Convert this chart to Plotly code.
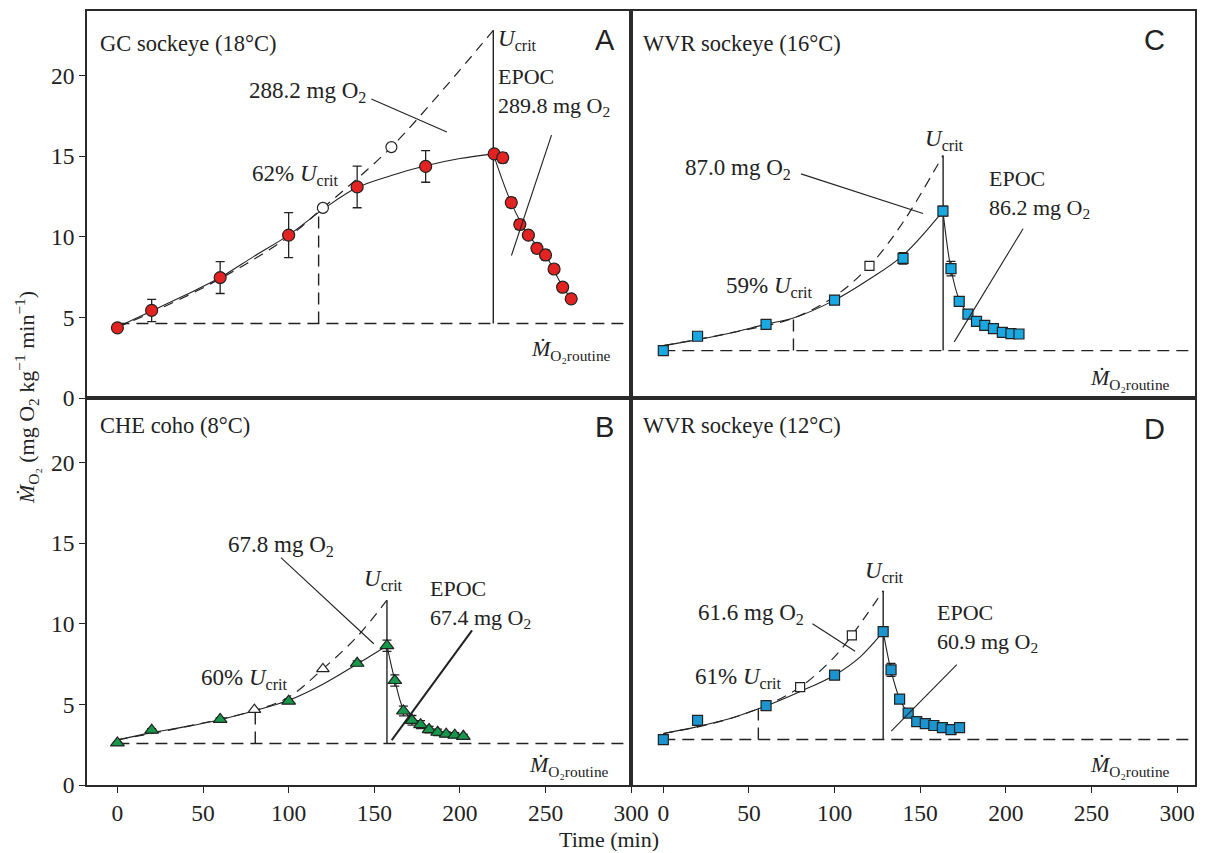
import plotly.graph_objects as go

# ---------------- DATA ----------------
# Panel A: GC sockeye (18°C)
a_time = [0, 20, 60, 100, 140, 180, 220, 225, 230, 235, 240, 245, 250, 255, 260, 265]
a_mo2 = [4.35, 5.43, 7.47, 10.1, 13.09, 14.36, 15.14, 14.9, 12.12, 10.76, 10.1, 9.28, 8.87, 8.0, 6.87, 6.15]
a_err = [0.0, 0.69, 0.99, 1.4, 1.29, 0.98, 0.15, 0.3, 0.3, 0.3, 0.25, 0.3, 0.3, 0.25, 0.25, 0.2]
a_open_time = [120, 160]
a_open_mo2 = [11.79, 15.56]
a_fit_time = [0, 20, 40, 60, 80, 100, 120, 140, 160, 180, 200, 220]
a_fit_mo2 = [4.4, 5.4, 6.4, 7.47, 8.8, 10.1, 11.7, 13.05, 13.8, 14.4, 14.85, 15.14]
a_ext_time = [0, 20, 60, 100, 120, 140, 160, 190, 219.5]
a_ext_mo2 = [4.4, 5.3, 7.4, 10.0, 11.79, 13.6, 15.56, 19.1, 22.8]
a_rec_time = [219.5, 230, 240, 250, 260, 265]
a_rec_mo2 = [15.14, 12.1, 10.1, 8.85, 6.9, 6.15]

# Panel B: CHE coho (8°C)
b_time = [0, 20, 60, 100, 140, 157.4, 162, 167, 172, 177, 182, 187, 192, 197, 202]
b_mo2 = [2.61, 3.4, 4.07, 5.2, 7.55, 8.64, 6.48, 4.59, 4.01, 3.74, 3.44, 3.27, 3.15, 3.09, 3.02]
b_err = [0.05, 0.1, 0.1, 0.12, 0.15, 0.35, 0.35, 0.3, 0.3, 0.25, 0.2, 0.2, 0.15, 0.15, 0.12]
b_open_time = [80, 120]
b_open_mo2 = [4.67, 7.2]
b_fit_time = [0, 20, 40, 60, 80, 100, 120, 140, 157.4]
b_fit_mo2 = [2.8, 3.25, 3.62, 4.05, 4.6, 5.25, 6.25, 7.5, 8.64]
b_ext_time = [0, 40, 80, 100, 120, 140, 157.4]
b_ext_mo2 = [2.8, 3.62, 4.62, 5.45, 7.2, 9.2, 11.46]
b_rec_time = [157.4, 162, 167, 172, 177, 182, 187, 192, 197, 202]
b_rec_mo2 = [8.64, 6.5, 4.7, 4.05, 3.7, 3.45, 3.3, 3.18, 3.1, 3.03]

# Panel C: WVR sockeye (16°C)
c_time = [0, 20, 60, 100, 140, 163.3, 168, 172.8, 177.9, 182.9, 187.7, 192.8, 198, 203, 207.7]
c_mo2 = [2.94, 3.83, 4.57, 6.07, 8.66, 11.59, 8.02, 5.99, 5.2, 4.75, 4.5, 4.3, 4.07, 3.99, 3.97]
c_err = [0.05, 0.1, 0.1, 0.1, 0.35, 0.3, 0.45, 0.3, 0.2, 0.15, 0.15, 0.12, 0.12, 0.1, 0.1]
c_open_time = [120.4]
c_open_mo2 = [8.19]
c_fit_time = [0, 20, 40, 60, 76, 100, 120, 140, 163.3]
c_fit_mo2 = [3.25, 3.62, 4.05, 4.58, 4.96, 6.07, 7.35, 8.85, 11.59]
c_ext_time = [0, 40, 76, 100, 120.4, 140, 163.3]
c_ext_mo2 = [3.25, 4.05, 4.96, 6.3, 8.19, 10.9, 15.04]
c_rec_time = [163.3, 168, 172.8, 178, 183, 188, 193, 198, 203, 208]
c_rec_mo2 = [11.59, 8.0, 6.1, 5.2, 4.75, 4.45, 4.25, 4.1, 4.0, 3.95]

# Panel D: WVR sockeye (12°C)
d_time = [0, 20, 60, 100, 128.4, 133, 138, 143, 148, 153, 158, 163, 168, 173]
d_mo2 = [2.82, 4.01, 4.92, 6.81, 9.51, 7.14, 5.33, 4.46, 3.93, 3.81, 3.69, 3.56, 3.44, 3.56]
d_err = [0.1, 0.15, 0.1, 0.12, 0.2, 0.4, 0.2, 0.15, 0.12, 0.12, 0.1, 0.1, 0.1, 0.1]
d_open_time = [79.9, 110.1]
d_open_mo2 = [6.07, 9.28]
d_fit_time = [0, 20, 40, 55.5, 60, 80, 100, 115, 128.4]
d_fit_mo2 = [3.19, 3.62, 4.15, 4.73, 4.9, 5.8, 6.81, 7.95, 9.51]
d_ext_time = [0, 30, 55.5, 79.9, 100, 110.1, 128.4]
d_ext_mo2 = [3.19, 3.85, 4.73, 6.07, 7.95, 9.28, 12.04]
d_rec_time = [128.4, 133, 138, 143, 148, 153, 158, 163, 168, 173]
d_rec_mo2 = [9.51, 7.1, 5.35, 4.45, 3.98, 3.8, 3.67, 3.56, 3.5, 3.5]

# Per-panel summary values (order A, B, C, D)
panel_titles = ["GC sockeye (18°C)", "CHE coho (8°C)", "WVR sockeye (16°C)", "WVR sockeye (12°C)"]
panel_letters = ["A", "B", "C", "D"]
routine_mo2 = [4.62, 2.57, 2.94, 2.82]
ucrit_time = [219.5, 157.4, 163.4, 128.4]
ucrit_top = [22.8, 11.46, 15.04, 12.04]
pct_time = [117.5, 80.5, 76, 55.5]
pct_mo2 = [11.6, 4.6, 4.96, 4.73]
pct_labels = ["62%", "60%", "59%", "61%"]
cost_labels = ["288.2", "67.8", "87.0", "61.6"]
epoc_labels = ["289.8", "67.4", "86.2", "60.9"]
x_ticks = [0, 50, 100, 150, 200, 250, 300]
y_ticks = [0, 5, 10, 15, 20]

# ---------------- STYLE ----------------
SERIF = "Liberation Serif, DejaVu Serif, serif"
SANS = "Liberation Sans, Arial, sans-serif"
INK = "#222222"
DASH = "12px,7px"

fig = go.Figure()

panels = [
    dict(xa="x", ya="y", t=a_time, v=a_mo2, e=a_err, ot=a_open_time, ov=a_open_mo2,
         ft=a_fit_time, fv=a_fit_mo2, et=a_ext_time, ev=a_ext_mo2, rt=a_rec_time, rv=a_rec_mo2,
         sym="circle", color="#e32322", size=12, xend=300),
    dict(xa="x2", ya="y2", t=b_time, v=b_mo2, e=b_err, ot=b_open_time, ov=b_open_mo2,
         ft=b_fit_time, fv=b_fit_mo2, et=b_ext_time, ev=b_ext_mo2, rt=b_rec_time, rv=b_rec_mo2,
         sym="triangle-up", color="#17974a", size=12, xend=300),
    dict(xa="x3", ya="y3", t=c_time, v=c_mo2, e=c_err, ot=c_open_time, ov=c_open_mo2,
         ft=c_fit_time, fv=c_fit_mo2, et=c_ext_time, ev=c_ext_mo2, rt=c_rec_time, rv=c_rec_mo2,
         sym="square", color="#1aa8e2", size=10, xend=312),
    dict(xa="x4", ya="y4", t=d_time, v=d_mo2, e=d_err, ot=d_open_time, ov=d_open_mo2,
         ft=d_fit_time, fv=d_fit_mo2, et=d_ext_time, ev=d_ext_mo2, rt=d_rec_time, rv=d_rec_mo2,
         sym="square", color="#1b94cf", size=10, xend=312),
]

for i, p in enumerate(panels):
    xa, ya = p["xa"], p["ya"]
    fig.add_trace(go.Scatter(x=[0, p["xend"]], y=[routine_mo2[i]] * 2, mode="lines",
                             line=dict(color=INK, width=1.4, dash=DASH), xaxis=xa, yaxis=ya,
                             hoverinfo="skip"))
    fig.add_trace(go.Scatter(x=[pct_time[i]] * 2, y=[routine_mo2[i], pct_mo2[i]], mode="lines",
                             line=dict(color=INK, width=1.4, dash=DASH), xaxis=xa, yaxis=ya,
                             hoverinfo="skip"))
    fig.add_trace(go.Scatter(x=[ucrit_time[i]] * 2, y=[routine_mo2[i], ucrit_top[i]], mode="lines",
                             line=dict(color=INK, width=1.4), xaxis=xa, yaxis=ya, hoverinfo="skip"))
    fig.add_trace(go.Scatter(x=p["et"], y=p["ev"], mode="lines", line_shape="spline",
                             line=dict(color=INK, width=1.2, dash="10px,7px"), xaxis=xa, yaxis=ya,
                             hoverinfo="skip"))
    fig.add_trace(go.Scatter(x=p["ft"], y=p["fv"], mode="lines", line_shape="spline",
                             line=dict(color=INK, width=1.1), xaxis=xa, yaxis=ya, hoverinfo="skip"))
    fig.add_trace(go.Scatter(x=p["rt"], y=p["rv"], mode="lines", line_shape="spline",
                             line=dict(color=INK, width=1.1), xaxis=xa, yaxis=ya, hoverinfo="skip"))
    fig.add_trace(go.Scatter(x=p["ot"], y=p["ov"], mode="markers",
                             marker=dict(symbol=p["sym"], size=p["size"] - 1, color="white",
                                         line=dict(color=INK, width=1.2)),
                             xaxis=xa, yaxis=ya))
    fig.add_trace(go.Scatter(x=p["t"], y=p["v"], mode="markers",
                             error_y=dict(type="data", array=p["e"], color=INK, thickness=1.3, width=4.5),
                             marker=dict(symbol=p["sym"], size=p["size"], color=p["color"],
                                         line=dict(color=INK, width=1.2)),
                             xaxis=xa, yaxis=ya))

# ---------------- ANNOTATIONS ----------------
ann = []
shapes = []


def txt(xr, yr, x, y, text, size=23, xanchor="center", font=SERIF):
    ann.append(dict(x=x, y=y, xref=xr, yref=yr, text=text, showarrow=False, align="left",
                    xanchor=xanchor, yanchor="middle", font=dict(family=font, size=size, color=INK)))


def leader(xr, yr, x0, y0, x1, y1, w=1.1):
    shapes.append(dict(type="line", xref=xr, yref=yr, x0=x0, y0=y0, x1=x1, y1=y1,
                       line=dict(color=INK, width=w)))


UC = "<i>U</i><sub>crit</sub>"
MR = "<i>Ṁ</i><sub>O₂routine</sub>"
MG = " mg O<sub>2</sub>"

title_pos = [(-11.4, 22.0), (-11.4, 22.3), (-13, 22.0), (-13, 22.3)]
letter_pos = [(284.5, 22.2), (284.5, 22.2), (287, 22.2), (287, 22.1)]
cost_pos = [(111, 19.0), (95.5, 14.85), (43.9, 14.2), (51.1, 10.6)]
cost_line = [(148.3, 18.55, 192.4, 16.5), (95.5, 14.1, 149.7, 8.76),
             (80.4, 13.9, 151.7, 11.44), (87.1, 10.0, 112, 8.29)]
uc_pos = [(221.3, 22.2, "left"), (155.2, 12.7, "center"), (164, 16.0, "center"), (128.9, 13.2, "center")]
epoc_pos = [(221.3, 18.95), (181.3, 11.2), (189.1, 12.68), (158.4, 9.74)]
epoc_line = [(253.5, 16.3, 230.1, 8.84), (207.1, 9.59, 160.2, 2.78),
             (210.1, 10.5, 169.9, 3.48), (171.4, 7.47, 133.1, 3.34)]
epoc_w = [1.1, 2.0, 1.1, 1.1]
pct_pos = [(104.1, 13.8), (74.5, 6.6), (62.2, 6.88), (43.7, 6.62)]
mr_pos = [(265, 3.0), (263.7, 1.15), (272.7, 1.17), (272.7, 1.18)]

for i, p in enumerate(panels):
    xr, yr = p["xa"], p["ya"]
    txt(xr, yr, *title_pos[i], panel_titles[i], size=22.5, xanchor="left")
    txt(xr, yr, *letter_pos[i], panel_letters[i], size=29, font=SANS)
    txt(xr, yr, *cost_pos[i], cost_labels[i] + MG)
    leader(xr, yr, *cost_line[i])
    txt(xr, yr, uc_pos[i][0], uc_pos[i][1], UC, xanchor=uc_pos[i][2])
    txt(xr, yr, *epoc_pos[i], "EPOC<br>" + epoc_labels[i] + MG, size=22, xanchor="left")
    leader(xr, yr, *epoc_line[i], w=epoc_w[i])
    txt(xr, yr, *pct_pos[i], pct_labels[i] + " " + UC)
    txt(xr, yr, *mr_pos[i], MR, size=22)

ann.append(dict(x=-0.055, y=0.5, xref="paper", yref="paper", textangle=-90, showarrow=False,
                text="<i>Ṁ</i><sub>O₂</sub> (mg O<sub>2</sub> kg<sup>−1</sup> min<sup>−1</sup>)",
                font=dict(family=SERIF, size=22, color=INK), xanchor="center", yanchor="middle"))
ann.append(dict(x=0.4707, y=-0.0709, xref="paper", yref="paper", showarrow=False,
                text="Time (min)", font=dict(family=SERIF, size=22, color=INK),
                xanchor="center", yanchor="middle"))

# ---------------- LAYOUT ----------------
# page body adds an 8px offset; the figure is sized so the plot area lands where the reference has it
DL = 0.4911
DT = 0.5
base = dict(showline=True, linecolor="#2a2a2a", linewidth=1.6, mirror=True, showgrid=False,
            zeroline=False, tickfont=dict(family=SERIF, size=23.5, color=INK))
xl = dict(base, range=[-17.76, 300])
xr_ = dict(base, range=[-18.79, 310.5])
ylim = dict(base, range=[0, 24])

fig.update_layout(
    width=1206, height=843,
    margin=dict(l=79, r=1, t=1, b=66),
    paper_bgcolor="white", plot_bgcolor="white",
    showlegend=False,
    xaxis=dict(xl, domain=[0, DL], anchor="y", showticklabels=False, ticks=""),
    yaxis=dict(ylim, domain=[DT, 1], anchor="x", tickvals=y_ticks, ticks="outside", ticklen=6,
               tickcolor=INK),
    xaxis2=dict(xl, domain=[0, DL], anchor="y2", tickvals=x_ticks, ticks="outside", ticklen=6,
                tickcolor=INK),
    yaxis2=dict(ylim, domain=[0, DT], anchor="x2", tickvals=y_ticks, ticks="outside", ticklen=6,
                tickcolor=INK),
    xaxis3=dict(xr_, domain=[DL, 1], anchor="y3", showticklabels=False, ticks=""),
    yaxis3=dict(ylim, domain=[DT, 1], anchor="x3", showticklabels=False, ticks=""),
    xaxis4=dict(xr_, domain=[DL, 1], anchor="y4", tickvals=x_ticks, ticks="outside", ticklen=6,
                tickcolor=INK),
    yaxis4=dict(ylim, domain=[0, DT], anchor="x4", showticklabels=False, ticks=""),
    annotations=ann,
    shapes=shapes,
)

fig.write_html("out.html")
